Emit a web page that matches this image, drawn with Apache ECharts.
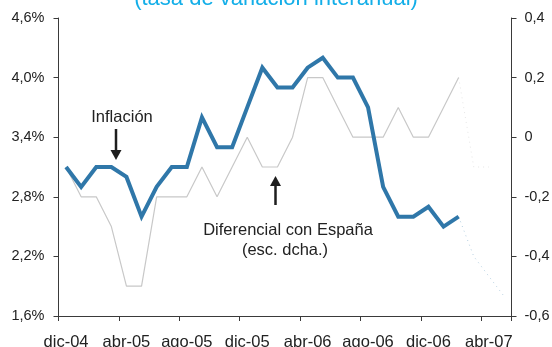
<!DOCTYPE html>
<html>
<head>
<meta charset="utf-8">
<script src="https://cdn.jsdelivr.net/npm/echarts@6/dist/echarts.min.js"></script>
<style>
  html, body { margin: 0; padding: 0; background: #fff; }
  #chart { width: 552px; height: 347px; }
</style>
</head>
<body>
<div id="chart"></div>
<script>
// Monthly categories, Dec 2004 to May 2007
const months = [
  'dic-04', 'ene-05', 'feb-05', 'mar-05', 'abr-05', 'may-05', 'jun-05', 'jul-05',
  'ago-05', 'sep-05', 'oct-05', 'nov-05', 'dic-05', 'ene-06', 'feb-06', 'mar-06',
  'abr-06', 'may-06', 'jun-06', 'jul-06', 'ago-06', 'sep-06', 'oct-06', 'nov-06',
  'dic-06', 'ene-07', 'feb-07', 'mar-07', 'abr-07', 'may-07'
];

// Inflation, % year on year (left scale)
const inflacion = [
  3.1, 2.9, 3.1, 3.1, 3.0, 2.6, 2.9, 3.1, 3.1, 3.6, 3.3, 3.3, 3.7, 4.1, 3.9, 3.9,
  4.1, 4.2, 4.0, 4.0, 3.7, 2.9, 2.6, 2.6, 2.7, 2.5, 2.6, null, null, null
];
// Faint trailing segment of the inflation line
const inflacionTramo = [
  null, null, null, null, null, null, null, null, null, null, null, null, null, null, null, null,
  null, null, null, null, null, null, null, null, null, null, 2.6, 2.2, 2.0, 1.8
];

// Differential with Spain, percentage points (right scale)
const diferencial = [
  -0.1, -0.2, -0.2, -0.3, -0.5, -0.5, -0.2, -0.2, -0.2, -0.1, -0.2, -0.1, 0.0, -0.1, -0.1, 0.0,
  0.2, 0.2, 0.1, 0.0, 0.0, 0.0, 0.1, 0.0, 0.0, 0.1, 0.2, null, null, null
];
// Faint trailing segment of the differential line
const diferencialTramo = [
  null, null, null, null, null, null, null, null, null, null, null, null, null, null, null, null,
  null, null, null, null, null, null, null, null, null, null, 0.2, -0.1, -0.1, null
];

// Axis ranges and tick steps
const leftMin = 1.6, leftMax = 4.6, leftStep = 0.6;
const rightMin = -0.6, rightMax = 0.4, rightStep = 0.2;

const FONT = '"Liberation Sans", Arial, Helvetica, sans-serif';
const AXIS_COLOR = '#3a3a3a';
const TEXT_COLOR = '#222';
const BLUE = '#2f77a9';
const GREY = '#c8c8c8';

const comma = v => v.toFixed(1).replace('.', ',');

const chart = echarts.init(document.getElementById('chart'), null, { renderer: 'canvas' });

chart.setOption({
  animation: false,
  backgroundColor: '#fff',
  grid: { left: 58.5, right: 40.5, top: 18, bottom: 31, containLabel: false,
          outerBoundsMode: 'none' },
  xAxis: {
    type: 'category',
    data: months,
    boundaryGap: true,
    axisLine: { show: true, onZero: false, lineStyle: { color: AXIS_COLOR, width: 1 } },
    axisTick: { show: true, interval: 3, alignWithLabel: false, length: 5, inside: false,
                lineStyle: { color: AXIS_COLOR } },
    axisLabel: { interval: 3, color: TEXT_COLOR, fontFamily: FONT, fontSize: 16.5, margin: 18 },
    splitLine: { show: false }
  },
  yAxis: [
    {
      type: 'value',
      position: 'left',
      min: leftMin, max: leftMax, interval: leftStep,
      axisLine: { show: true, lineStyle: { color: AXIS_COLOR, width: 1 } },
      axisTick: { show: true, length: 5, lineStyle: { color: AXIS_COLOR } },
      axisLabel: { color: TEXT_COLOR, fontFamily: FONT, fontSize: 14.5, margin: 14,
                   formatter: v => comma(v) + '%' },
      splitLine: { show: false }
    },
    {
      type: 'value',
      position: 'right',
      min: rightMin, max: rightMax, interval: rightStep,
      axisLine: { show: true, lineStyle: { color: AXIS_COLOR, width: 1 } },
      axisTick: { show: true, length: 5, lineStyle: { color: AXIS_COLOR } },
      axisLabel: { color: TEXT_COLOR, fontFamily: FONT, fontSize: 14.5, margin: 13,
                   formatter: v => Math.abs(v) < 1e-9 ? '0' : comma(v) },
      splitLine: { show: false }
    }
  ],
  series: [
    {
      name: 'Diferencial con España',
      type: 'line',
      yAxisIndex: 1,
      data: diferencial,
      showSymbol: false,
      z: 2,
      lineStyle: { color: GREY, width: 1.2 }
    },
    {
      name: 'Diferencial tramo',
      type: 'line',
      yAxisIndex: 1,
      data: diferencialTramo,
      showSymbol: false,
      z: 1,
      lineStyle: { color: 'rgba(200,200,200,0.45)', width: 1, type: [1, 4] }
    },
    {
      name: 'Inflación tramo',
      type: 'line',
      yAxisIndex: 0,
      data: inflacionTramo,
      showSymbol: false,
      z: 1,
      lineStyle: { color: 'rgba(47,119,169,0.35)', width: 1, type: [1, 4] }
    },
    {
      name: 'Inflación',
      type: 'line',
      yAxisIndex: 0,
      data: inflacion,
      showSymbol: false,
      z: 3,
      lineStyle: { color: BLUE, width: 4, join: 'miter' }
    }
  ],
  graphic: [
    // Subtitle, partly above the canvas edge
    {
      type: 'text', left: 'center', top: -12,
      style: { text: '(tasa de variación interanual)', font: '22px ' + FONT, fill: '#13aee8' }
    },
    // Annotation: inflation
    {
      type: 'text', x: 122, y: 117,
      style: { text: 'Inflación', font: '16.5px ' + FONT, fill: TEXT_COLOR,
               align: 'center', verticalAlign: 'middle' }
    },
    {
      type: 'line', shape: { x1: 116, y1: 129, x2: 116, y2: 152 },
      style: { stroke: '#1e1e1e', lineWidth: 2.5 }
    },
    {
      type: 'polygon', shape: { points: [[110.5, 150], [121.5, 150], [116, 160]] },
      style: { fill: '#1e1e1e' }
    },
    // Annotation: differential
    {
      type: 'line', shape: { x1: 275.5, y1: 205, x2: 275.5, y2: 184 },
      style: { stroke: '#1e1e1e', lineWidth: 2.5 }
    },
    {
      type: 'polygon', shape: { points: [[270, 186], [281, 186], [275.5, 176]] },
      style: { fill: '#1e1e1e' }
    },
    {
      type: 'text', x: 288, y: 230,
      style: { text: 'Diferencial con España', font: '16.5px ' + FONT, fill: TEXT_COLOR,
               align: 'center', verticalAlign: 'middle' }
    },
    {
      type: 'text', x: 285, y: 250,
      style: { text: '(esc. dcha.)', font: '16.5px ' + FONT, fill: TEXT_COLOR,
               align: 'center', verticalAlign: 'middle' }
    }
  ]
});
</script>
</body>
</html>
